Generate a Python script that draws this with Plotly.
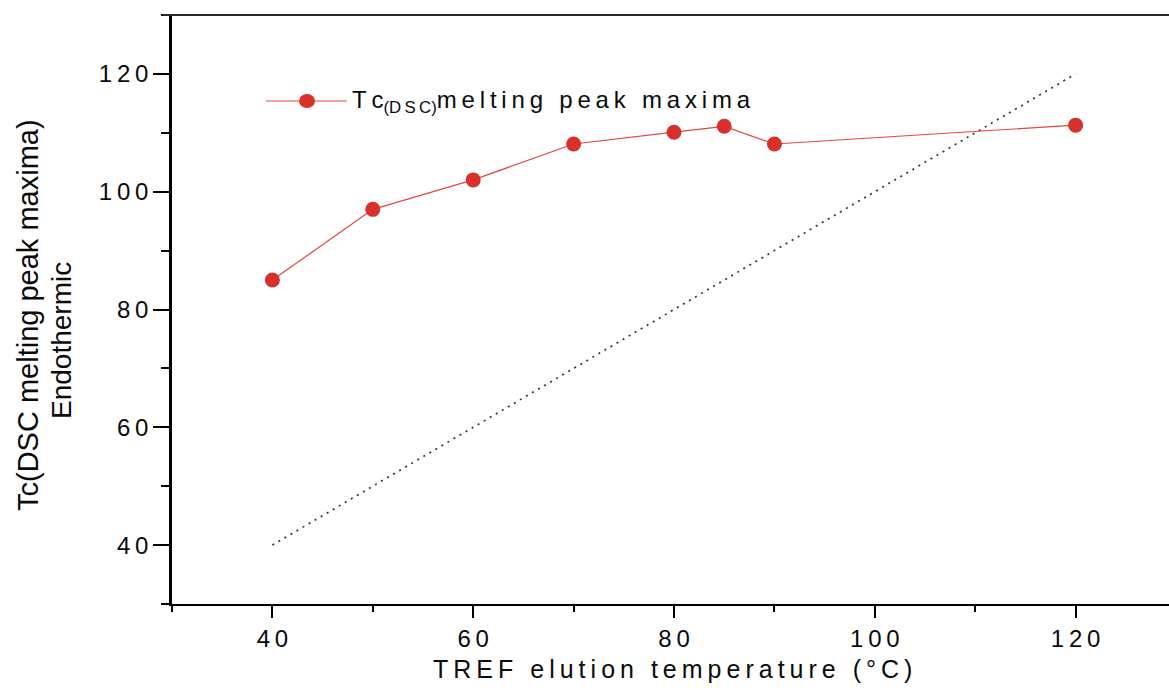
import plotly.graph_objects as go

# ---- data ----
tref_temp = [40, 50, 60, 70, 80, 85, 90, 120]
tc_dsc_peak = [85.0, 97.0, 102.0, 108.1, 110.1, 111.1, 108.1, 111.3]
ref_x = [40, 120]
ref_y = [40, 120]
x_ticks = [40, 60, 80, 100, 120]
y_ticks = [40, 60, 80, 100, 120]

SP = "\u2009"   # thin space to mimic letter spacing
NB = "\u00a0"   # non-breaking space for word gaps


def spaced(s):
    return SP.join(NB if ch == " " else ch for ch in s)


FONT = "Liberation Sans, Arial, sans-serif"
TXT = "#0a0a0a"
W, H = 1169, 690
L, R, T, B = 172, 0, 15, 86
PW, PH = W - L - R, H - T - B


def px_x(p):
    return (p - L) / PW


def px_y(p):
    return (H - B - p) / PH


fig = go.Figure()

fig.add_trace(go.Scatter(
    x=ref_x, y=ref_y, mode="lines",
    line=dict(color="#333333", width=1.7, dash="2px,5px"),
    showlegend=False, hoverinfo="skip"))

fig.add_trace(go.Scatter(
    x=tref_temp, y=tc_dsc_peak, mode="lines+markers",
    line=dict(color="#e2483e", width=1.2),
    marker=dict(color="#d8302a", size=15, symbol="circle"),
    showlegend=False))

shapes = [
    # top frame line
    dict(type="line", xref="paper", yref="paper", x0=px_x(163), x1=1.0, y0=1, y1=1,
         line=dict(color="#2a2a2a", width=2)),
    # x axis extension to the left
    dict(type="line", xref="paper", yref="paper", x0=px_x(162), x1=0, y0=0, y1=0,
         line=dict(color="black", width=2)),
    # legend line
    dict(type="line", xref="paper", yref="paper", x0=px_x(266), x1=px_x(347),
         y0=px_y(101), y1=px_y(101), line=dict(color="#e2483e", width=1.2)),
    # legend marker
    dict(type="circle", xref="paper", yref="paper", xsizemode="pixel", ysizemode="pixel",
         xanchor=px_x(307), yanchor=px_y(101), x0=-8, x1=8, y0=-7, y1=7,
         fillcolor="#d8302a", line=dict(width=0)),
]

legend_text = "T" + SP + "c<sub>(" + spaced("DSC") + ")</sub>" + spaced("melting peak maxima")

annotations = [
    dict(text=legend_text,
         xref="paper", yref="paper", x=px_x(350), y=px_y(101), xanchor="left", yanchor="middle",
         showarrow=False, font=dict(family=FONT, size=24, color=TXT)),
    dict(text=spaced("TREF elution temperature (°C)"),
         xref="paper", yref="paper", x=px_x(672), y=px_y(669), xanchor="center", yanchor="middle",
         showarrow=False, font=dict(family=FONT, size=25, color=TXT)),
    dict(text="Tc(DSC melting peak maxima)", textangle=-90,
         xref="paper", yref="paper", x=px_x(28), y=px_y(315), xanchor="center", yanchor="middle",
         showarrow=False, font=dict(family=FONT, size=29, color=TXT)),
    dict(text="Endothermic", textangle=-90,
         xref="paper", yref="paper", x=px_x(61), y=px_y(341), xanchor="center", yanchor="middle",
         showarrow=False, font=dict(family=FONT, size=28, color=TXT)),
]

fig.update_layout(
    width=W, height=H,
    margin=dict(l=L, r=R, t=T, b=B, pad=0),
    paper_bgcolor="white", plot_bgcolor="white",
    font=dict(family=FONT, size=24, color=TXT),
    shapes=shapes, annotations=annotations,
    showlegend=False,
)

fig.update_xaxes(
    range=[30, 129.3], showgrid=False, zeroline=False,
    showline=True, linecolor="black", linewidth=2,
    ticks="outside", ticklen=12, tickwidth=2, tickcolor="black",
    tickvals=x_ticks, ticktext=[spaced(str(v)) for v in x_ticks],
    minor=dict(dtick=10, tick0=0, ticks="outside", ticklen=6, tickwidth=2, tickcolor="black"),
    tickfont=dict(family=FONT, size=24, color=TXT),
)
fig.update_yaxes(
    range=[30, 130], showgrid=False, zeroline=False,
    showline=True, linecolor="black", linewidth=2.5,
    ticks="outside", ticklen=16, tickwidth=2, tickcolor="black",
    tickvals=y_ticks, ticktext=[spaced(str(v)) for v in y_ticks],
    minor=dict(dtick=10, tick0=0, ticks="outside", ticklen=8, tickwidth=2, tickcolor="black"),
    tickfont=dict(family=FONT, size=24, color=TXT),
)

fig.write_html("out.html")
